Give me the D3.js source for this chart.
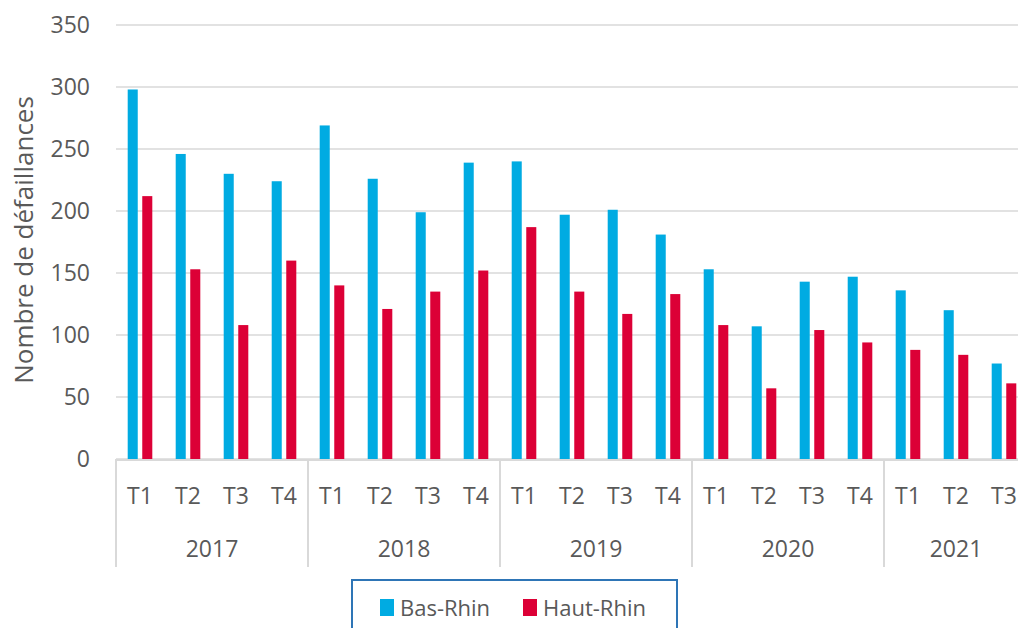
<!DOCTYPE html>
<html>
<head>
<meta charset="utf-8">
<script src="https://cdn.jsdelivr.net/npm/d3@7"></script>
<style>
  body { margin: 0; background: #fff; }
  svg text { font-family: "Open Sans", "Liberation Sans", sans-serif; fill: #595959; }
</style>
</head>
<body>
<div id="chart"></div>
<script>
// data
const years = ["2017", "2018", "2019", "2020", "2021"];
const quarters = ["T1", "T2", "T3", "T4"];
const categories = [
  "2017-T1", "2017-T2", "2017-T3", "2017-T4",
  "2018-T1", "2018-T2", "2018-T3", "2018-T4",
  "2019-T1", "2019-T2", "2019-T3", "2019-T4",
  "2020-T1", "2020-T2", "2020-T3", "2020-T4",
  "2021-T1", "2021-T2", "2021-T3"
];
const basRhin = [298, 246, 230, 224, 269, 226, 199, 239, 240, 197, 201, 181, 153, 107, 143, 147, 136, 120, 77];
const hautRhin = [212, 153, 108, 160, 140, 121, 135, 152, 187, 135, 117, 133, 108, 57, 104, 94, 88, 84, 61];
const seriesNames = ["Bas-Rhin", "Haut-Rhin"];
const colors = ["#00abe2", "#dc0036"];
const yTicks = [0, 50, 100, 150, 200, 250, 300, 350];

const width = 1018, height = 628;
const plotLeft = 116, plotTop = 25, plotBottom = 459;
const step = 48;

const svg = d3.select("#chart").append("svg")
  .attr("width", width)
  .attr("height", height);

const y = d3.scaleLinear().domain([0, 350]).range([plotBottom, plotTop]);

// one band per quarter, bar pair centred in each
const x0 = d3.scaleBand()
  .domain(categories)
  .range([plotLeft, plotLeft + categories.length * step])
  .paddingInner(0.4875)
  .paddingOuter(0.24375);

const x1 = d3.scaleBand()
  .domain([0, 1])
  .range([0, x0.bandwidth()])
  .paddingInner(0.31);

// gridlines
svg.append("g")
  .selectAll("line")
  .data(yTicks)
  .enter()
  .append("line")
  .attr("x1", plotLeft)
  .attr("x2", width)
  .attr("y1", d => y(d))
  .attr("y2", d => y(d))
  .attr("stroke", "#d9d9d9")
  .attr("stroke-width", 1.5);

// y axis labels
const yAxis = svg.append("g")
  .attr("transform", `translate(${plotLeft},0)`)
  .call(d3.axisLeft(y).tickValues(yTicks).tickSize(0).tickPadding(26));
yAxis.select(".domain").remove();
yAxis.selectAll("text")
  .style("font-size", "23px")
  .attr("fill", "#595959");

// y title
svg.append("text")
  .attr("transform", `translate(33,240) rotate(-90)`)
  .attr("text-anchor", "middle")
  .style("font-size", "26px")
  .text("Nombre de défaillances");

// bars
const rows = categories.map((c, i) => ({ cat: c, vals: [basRhin[i], hautRhin[i]] }));

const barGroups = svg.append("g")
  .selectAll("g")
  .data(rows)
  .enter()
  .append("g")
  .attr("transform", d => `translate(${x0(d.cat)},0)`);

barGroups.selectAll("rect")
  .data(d => d.vals)
  .enter()
  .append("rect")
  .attr("x", (d, i) => x1(i))
  .attr("width", x1.bandwidth())
  .attr("y", d => y(d))
  .attr("height", d => plotBottom - y(d))
  .attr("fill", (d, i) => colors[i]);

// category axis line + year separators
svg.append("line")
  .attr("x1", plotLeft).attr("x2", width)
  .attr("y1", plotBottom + 1).attr("y2", plotBottom + 1)
  .attr("stroke", "#d9d9d9")
  .attr("stroke-width", 2);

const yearStart = years.map((yr, i) => plotLeft + i * 4 * step);
svg.append("g")
  .selectAll("line")
  .data(yearStart)
  .enter()
  .append("line")
  .attr("x1", d => d).attr("x2", d => d)
  .attr("y1", plotBottom).attr("y2", 567)
  .attr("stroke", "#d9d9d9")
  .attr("stroke-width", 2);

// quarter labels
svg.append("g")
  .selectAll("text")
  .data(categories)
  .enter()
  .append("text")
  .attr("x", d => x0(d) + x0.bandwidth() / 2)
  .attr("y", 504)
  .attr("text-anchor", "middle")
  .style("font-size", "23px")
  .text(d => d.split("-")[1]);

// year labels
svg.append("g")
  .selectAll("text")
  .data(years)
  .enter()
  .append("text")
  .attr("x", (d, i) => {
    const cats = categories.filter(c => c.startsWith(d));
    return (x0(cats[0]) + x0(cats[cats.length - 1]) + x0.bandwidth()) / 2;
  })
  .attr("y", 557)
  .attr("text-anchor", "middle")
  .style("font-size", "23px")
  .text(d => d);

// legend
const legend = svg.append("g");
legend.append("rect")
  .attr("x", 352).attr("y", 580)
  .attr("width", 325).attr("height", 60)
  .attr("fill", "#fff")
  .attr("stroke", "#2e75b6")
  .attr("stroke-width", 2);

const legendX = [380, 523];
seriesNames.forEach((name, i) => {
  legend.append("rect")
    .attr("x", legendX[i]).attr("y", 599)
    .attr("width", 14).attr("height", 17)
    .attr("fill", colors[i]);
  legend.append("text")
    .attr("x", legendX[i] + 20).attr("y", 616)
    .style("font-size", "22px")
    .text(name);
});
</script>
</body>
</html>
